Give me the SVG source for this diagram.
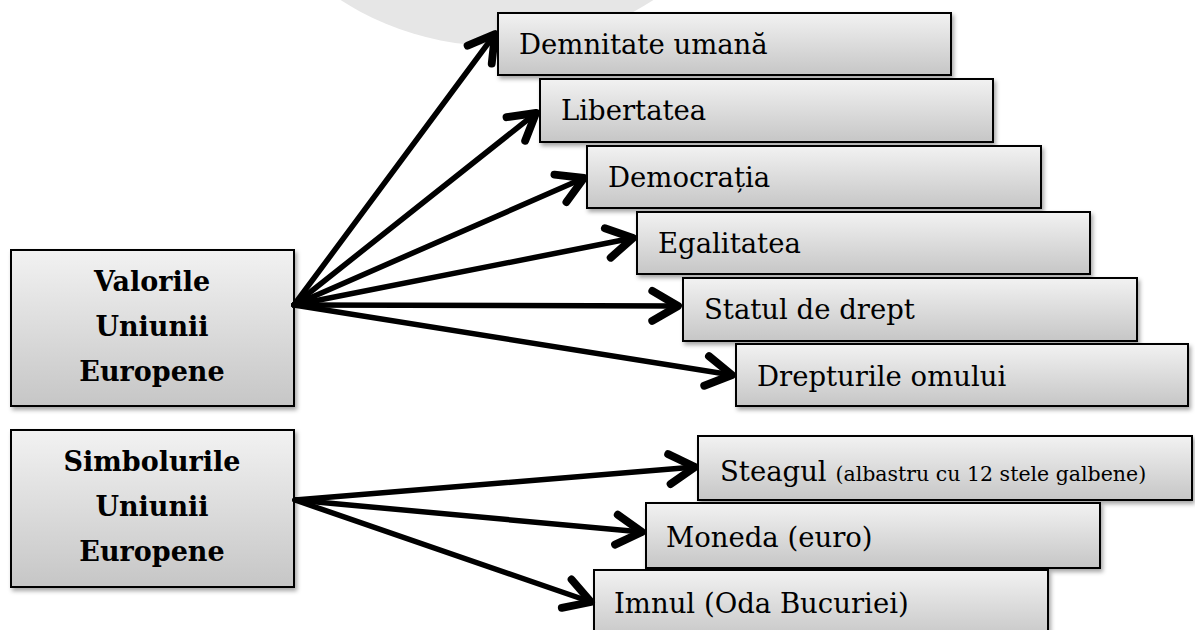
<svg xmlns="http://www.w3.org/2000/svg" width="1195" height="630" viewBox="0 0 1195 630">
  <defs>
    <linearGradient id="boxGrad" x1="0" y1="0" x2="0" y2="1">
      <stop offset="0" stop-color="#f2f2f2"/>
      <stop offset="1" stop-color="#c6c6c6"/>
    </linearGradient>
    <filter id="shadow" x="-10%" y="-10%" width="130%" height="140%">
      <feDropShadow dx="2" dy="3" stdDeviation="2" flood-color="#000" flood-opacity="0.35"/>
    </filter>
    <marker id="arrow" markerUnits="userSpaceOnUse" markerWidth="40" markerHeight="40" refX="0" refY="0" viewBox="-22 -14 26 28" orient="auto" overflow="visible">
      <path d="M -18 -10.5 L 0 0 L -18 10.5" fill="none" stroke="#000" stroke-width="5.5" stroke-linecap="round" stroke-linejoin="round"/>
    </marker>
    <style>
      .box { fill: url(#boxGrad); stroke: #000; stroke-width: 2; filter: url(#shadow); }
      .lbl { font-family: "DejaVu Serif", "Liberation Serif", serif; font-size: 27.5px; fill: #000; }
      .small { font-size: 20.5px; }
      .title { font-family: "DejaVu Serif", "Liberation Serif", serif; font-size: 27px; font-weight: bold; fill: #000; text-anchor: middle; }
      .conn { stroke: #000; stroke-width: 5.5; fill: none; stroke-linecap: round; marker-end: url(#arrow); }
    </style>
  </defs>

  <rect width="1195" height="630" fill="#fff"/>
  <circle cx="497" cy="-243" r="289" fill="#e6e6e6"/>

  <g id="valori">
    <rect class="box" x="11" y="250" width="283" height="156"/>
    <text class="title" x="152" y="291">Valorile</text>
    <text class="title" x="152" y="336">Uniunii</text>
    <text class="title" x="152" y="381">Europene</text>
  </g>
  <g id="simboluri">
    <rect class="box" x="11" y="430" width="283" height="157"/>
    <text class="title" x="152" y="471">Simbolurile</text>
    <text class="title" x="152" y="516">Uniunii</text>
    <text class="title" x="152" y="561">Europene</text>
  </g>

  <g id="demnitate">
    <rect class="box" x="498" y="13" width="453" height="62"/>
    <text class="lbl" x="519" y="54">Demnitate umană</text>
  </g>
  <g id="libertatea">
    <rect class="box" x="540" y="79" width="453" height="63"/>
    <text class="lbl" x="561" y="120">Libertatea</text>
  </g>
  <g id="democratia">
    <rect class="box" x="587" y="146" width="454" height="62"/>
    <text class="lbl" x="608" y="187">Democrația</text>
  </g>
  <g id="egalitatea">
    <rect class="box" x="637" y="212" width="453" height="62"/>
    <text class="lbl" x="658" y="253">Egalitatea</text>
  </g>
  <g id="statul">
    <rect class="box" x="683" y="278" width="454" height="63"/>
    <text class="lbl" x="704" y="319">Statul de drept</text>
  </g>
  <g id="drepturile">
    <rect class="box" x="736" y="344" width="452" height="62"/>
    <text class="lbl" x="757" y="386">Drepturile omului</text>
  </g>
  <g id="steagul">
    <rect class="box" x="698" y="436" width="494" height="64"/>
    <text class="lbl" x="720" y="481">Steagul <tspan class="small">(albastru cu 12 stele galbene)</tspan></text>
  </g>
  <g id="moneda">
    <rect class="box" x="646" y="503" width="454" height="65"/>
    <text class="lbl" x="666" y="547">Moneda (euro)</text>
  </g>
  <g id="imnul">
    <rect class="box" x="594" y="570" width="454" height="70"/>
    <text class="lbl" x="614" y="613">Imnul (Oda Bucuriei)</text>
  </g>

  <g id="connectors">
    <line class="conn" x1="294" y1="305" x2="495" y2="34"/>
    <line class="conn" x1="294" y1="305" x2="536" y2="113"/>
    <line class="conn" x1="294" y1="305" x2="584" y2="178"/>
    <line class="conn" x1="294" y1="305" x2="633" y2="238"/>
    <line class="conn" x1="294" y1="305" x2="678" y2="306"/>
    <line class="conn" x1="294" y1="305" x2="732" y2="375"/>
    <line class="conn" x1="295" y1="500" x2="695" y2="467"/>
    <line class="conn" x1="295" y1="500" x2="642" y2="532"/>
    <line class="conn" x1="295" y1="500" x2="591" y2="602"/>
  </g>
</svg>
